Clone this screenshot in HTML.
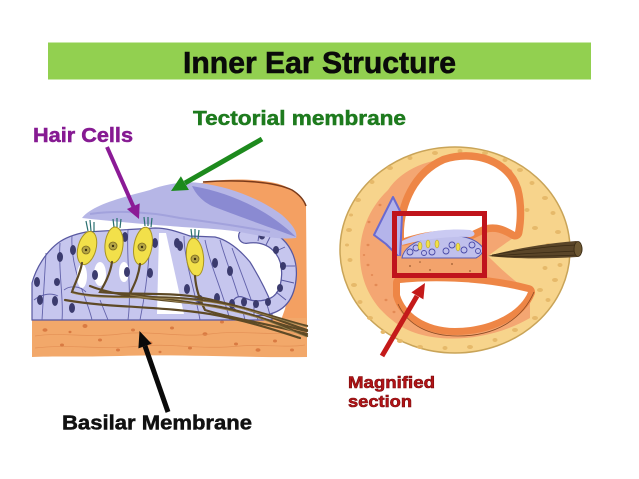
<!DOCTYPE html>
<html><head><meta charset="utf-8"><style>
html,body{margin:0;padding:0;background:#fff;}
svg{display:block;}
text{font-family:"Liberation Sans",Arial,sans-serif;font-weight:bold;}
</style></head><body>
<svg width="639" height="479" viewBox="0 0 639 479" xmlns="http://www.w3.org/2000/svg">
<rect width="639" height="479" fill="#fff"/>
<!-- Title bar -->
<rect x="48" y="42.5" width="543" height="37" fill="#92d050"/>
<text x="183" y="73" font-size="31" fill="#0a0a0a" stroke="#0a0a0a" stroke-width="0.6" textLength="273" lengthAdjust="spacingAndGlyphs">Inner Ear Structure</text>

<!-- ============ LEFT ILLUSTRATION ============ -->
<path d="M192,186 C215,178 250,178 275,183 C292,187 302,196 306,206 L307,322 L280,322 C290,300 294,270 288,250 C280,232 262,226 240,222 Z" fill="#f4a062"/>
<path d="M203,182 C240,179 275,182 292,190 C300,195 304,200 306,206" fill="none" stroke="#7a3a1a" stroke-width="1.5"/>
<path d="M32,318 L307,318 L307,357 C250,358 180,354 120,356 C80,357 50,356 32,357 Z" fill="#f2a86a"/>
<g fill="#d97a42">
<ellipse cx="45" cy="330" rx="2.5" ry="1.8"/><ellipse cx="62" cy="345" rx="2" ry="1.5"/><ellipse cx="85" cy="326" rx="2.5" ry="2"/><ellipse cx="100" cy="340" rx="2" ry="1.5"/><ellipse cx="118" cy="350" rx="2" ry="1.5"/><ellipse cx="133" cy="330" rx="2" ry="1.5"/><ellipse cx="150" cy="343" rx="2.5" ry="1.8"/><ellipse cx="172" cy="328" rx="2" ry="1.5"/><ellipse cx="190" cy="348" rx="2" ry="1.5"/><ellipse cx="205" cy="334" rx="2.5" ry="1.8"/><ellipse cx="222" cy="322" rx="2" ry="1.5"/><ellipse cx="236" cy="344" rx="2" ry="1.5"/><ellipse cx="258" cy="350" rx="2.5" ry="1.8"/><ellipse cx="275" cy="341" rx="2" ry="1.5"/><ellipse cx="292" cy="350" rx="2" ry="1.5"/><ellipse cx="70" cy="332" rx="1.5" ry="1.2"/><ellipse cx="160" cy="352" rx="1.5" ry="1.2"/>
</g>
<g stroke="#e08a50" stroke-width="0.7" fill="none" opacity="0.8">
<path d="M35,336 C60,332 90,338 120,334 C150,330 180,338 210,334 C240,330 270,336 305,332"/>
<path d="M35,348 C70,344 100,350 140,346 C170,343 200,350 240,346 C265,344 285,348 305,345"/>
</g>

<path d="M32,320 L32,283 C36,268 46,252 58,243 C66,237 76,234 86,232 L155,228 C168,228 178,232 190,236 L215,237 C228,240 240,250 250,262 C258,275 266,290 272,305 L272,320 Z" fill="#c6c6ee" stroke="#5858a0" stroke-width="1.2"/>
<g stroke="#6262aa" stroke-width="0.9" fill="none">
<path d="M46,253 L42,320"/><path d="M60,243 C58,270 64,300 62,320"/><path d="M72,236 C70,270 88,300 92,320"/><path d="M100,300 L108,320"/><path d="M128,230 C126,260 132,290 128,320"/><path d="M150,229 C150,260 146,290 140,320"/><path d="M34,300 C40,295 50,292 58,296"/><path d="M64,290 C70,285 80,286 86,292"/>
<path d="M184,236 C184,260 195,290 200,320"/><path d="M205,240 C210,265 222,290 230,320"/><path d="M220,240 C226,262 238,290 245,320"/><path d="M232,248 C240,270 250,295 258,320"/><path d="M190,300 C200,296 212,298 220,304"/>
</g>
<g fill="#fff">
<path d="M159,233 L166,233 L184,314 L157,314 Z"/>
<ellipse cx="82" cy="276" rx="5" ry="12"/>
<ellipse cx="100" cy="274" rx="6" ry="12"/>
<ellipse cx="124" cy="272" rx="5" ry="10"/>
</g>
<path d="M246,236 C272,232 290,250 289,275 C288,295 280,306 262,308 C250,309 245,306 240,304" fill="none" stroke="#5858a0" stroke-width="16" stroke-linecap="round"/>
<path d="M246,236 C272,232 290,250 289,275 C288,295 280,306 262,308 C250,309 245,306 240,304" fill="none" stroke="#c6c6ee" stroke-width="13.5" stroke-linecap="round"/>
<g stroke="#5858a0" stroke-width="0.9">
<line x1="260" y1="228" x2="258" y2="241"/><line x1="272" y1="233" x2="266" y2="245"/><line x1="285" y1="247" x2="274" y2="252"/><line x1="295" y1="266" x2="282" y2="266"/><line x1="294" y1="283" x2="281" y2="280"/><line x1="286" y1="300" x2="276" y2="292"/><line x1="270" y1="315" x2="266" y2="301"/><line x1="254" y1="315" x2="254" y2="302"/>
</g>
<g fill="#3b3b6e">
<ellipse cx="40" cy="300" rx="3" ry="5"/><ellipse cx="55" cy="301" rx="3" ry="5"/><ellipse cx="72" cy="308" rx="3" ry="5"/><ellipse cx="60" cy="257" rx="3" ry="5"/><ellipse cx="73" cy="250" rx="3" ry="5"/><ellipse cx="95" cy="275" rx="3" ry="5"/><ellipse cx="125" cy="237" rx="3" ry="5"/><ellipse cx="127" cy="272" rx="3" ry="5"/><ellipse cx="155" cy="243" rx="3" ry="5"/><ellipse cx="150" cy="273" rx="3" ry="5"/><ellipse cx="177" cy="243" rx="3" ry="5"/><ellipse cx="37" cy="282" rx="3" ry="5"/><ellipse cx="57" cy="282" rx="3" ry="4"/>
<ellipse cx="180" cy="246" rx="3" ry="5"/><ellipse cx="187" cy="289" rx="3" ry="5"/><ellipse cx="215" cy="263" rx="3" ry="5"/><ellipse cx="230" cy="271" rx="3" ry="5"/><ellipse cx="217" cy="298" rx="3" ry="5"/><ellipse cx="232" cy="304" rx="3" ry="5"/><ellipse cx="244" cy="302" rx="3" ry="4.5"/><ellipse cx="256" cy="304" rx="3" ry="4"/><ellipse cx="268" cy="302" rx="3" ry="4"/><ellipse cx="280" cy="288" rx="3" ry="4"/><ellipse cx="283" cy="266" rx="3" ry="4"/><ellipse cx="276" cy="250" rx="3" ry="4"/><ellipse cx="262" cy="236" rx="3" ry="3.5"/><ellipse cx="200" cy="300" rx="3" ry="5"/>
</g>

<path d="M82,218 C92,205 120,198 150,190 C165,184 185,181 200,183 C232,187 262,200 282,215 C292,224 298,232 296,238 C280,240 260,236 240,232 C215,228 190,228 170,226 C140,224 110,221 82,218 Z" fill="#b6b6e6"/>
<path d="M192,186 C232,193 268,210 296,237 C278,230 248,220 212,206 C200,200 195,192 192,186 Z" fill="#8a8ad2"/>
<path d="M90,214 C120,210 150,212 180,218 C210,222 240,226 270,232" fill="none" stroke="#a2a2dc" stroke-width="2"/>

<g stroke="#2a7070" stroke-width="1.2">
<line x1="88" y1="231" x2="86" y2="221"/><line x1="91" y1="231" x2="90" y2="220"/><line x1="94" y1="232" x2="94" y2="222"/>
<line x1="114" y1="227" x2="113" y2="219"/><line x1="117" y1="227" x2="117" y2="218"/><line x1="120" y1="228" x2="121" y2="219"/>
<line x1="145" y1="226" x2="144" y2="217"/><line x1="148" y1="226" x2="148" y2="217"/><line x1="151" y1="227" x2="152" y2="218"/>
<line x1="192" y1="238" x2="191" y2="229"/><line x1="195" y1="238" x2="195" y2="229"/><line x1="198" y1="239" x2="199" y2="230"/>
</g>
<g fill="#f2e04a" stroke="#a89420" stroke-width="1">
<ellipse cx="87" cy="248" rx="9" ry="17" transform="rotate(15 87 248)"/>
<ellipse cx="114" cy="245" rx="9" ry="18" transform="rotate(5 114 245)"/>
<ellipse cx="143" cy="246" rx="9" ry="19" transform="rotate(10 143 246)"/>
<ellipse cx="195" cy="257" rx="8.5" ry="19" transform="rotate(-6 195 257)"/>
</g>
<g fill="#b5a545" stroke="#7a6a20" stroke-width="0.8">
<circle cx="86" cy="250" r="4"/><circle cx="113" cy="246" r="4"/><circle cx="142" cy="247" r="4"/><circle cx="195" cy="259" r="4"/>
</g>
<g fill="#3a3010"><circle cx="86" cy="250" r="1.2"/><circle cx="113" cy="246" r="1.2"/><circle cx="142" cy="247" r="1.2"/><circle cx="195" cy="259" r="1.2"/></g>

<g fill="none" stroke="#5e4a26" stroke-width="2.2" stroke-linecap="round">
<path d="M82,263 C80,275 74,285 72,292 C100,300 150,294 200,300 C240,304 275,318 307,326"/>
<path d="M112,262 C110,275 104,285 100,292 C140,296 180,290 220,302 C255,310 282,322 307,330"/>
<path d="M140,264 C138,280 132,288 130,294 C170,300 210,304 240,312 C268,318 290,330 307,336"/>
<path d="M195,276 C196,290 200,300 205,310 C230,318 260,322 307,334"/>
<path d="M65,300 C110,308 160,306 210,314 C245,320 275,330 300,338"/>
<path d="M90,286 C120,298 170,300 215,306 C250,312 280,326 307,331"/>
</g>
<g fill="none" stroke="#9a8450" stroke-width="0.8">
<path d="M72,293 C100,301 150,295 200,301 C240,305 275,319 307,327"/>
<path d="M130,295 C170,301 210,305 240,313 C268,319 290,331 307,337"/>
</g>

<!-- ============ RIGHT ILLUSTRATION (cochlea) ============ -->
<ellipse cx="455" cy="250" rx="115" ry="103" fill="#f7d48c" stroke="#c9a458" stroke-width="1.5"/>
<g fill="#e6b96a">
<ellipse cx="349" cy="230" rx="3" ry="2"/><ellipse cx="350" cy="260" rx="2.5" ry="2"/><ellipse cx="347" cy="245" rx="2" ry="1.5"/><ellipse cx="354" cy="285" rx="3" ry="2"/><ellipse cx="360" cy="302" rx="2.5" ry="2"/><ellipse cx="370" cy="318" rx="3" ry="2"/><ellipse cx="383" cy="332" rx="2.5" ry="2"/><ellipse cx="400" cy="341" rx="3" ry="2"/><ellipse cx="420" cy="347" rx="3" ry="2"/><ellipse cx="445" cy="348" rx="2.5" ry="2"/><ellipse cx="470" cy="347" rx="3" ry="2"/><ellipse cx="495" cy="340" rx="2.5" ry="2"/><ellipse cx="515" cy="330" rx="3" ry="2"/><ellipse cx="535" cy="318" rx="3" ry="2"/><ellipse cx="548" cy="300" rx="2.5" ry="2"/><ellipse cx="555" cy="280" rx="3" ry="2"/><ellipse cx="560" cy="265" rx="2.5" ry="2"/><ellipse cx="558" cy="232" rx="3" ry="2"/><ellipse cx="553" cy="213" rx="2.5" ry="2"/><ellipse cx="545" cy="198" rx="3" ry="2"/><ellipse cx="532" cy="183" rx="2.5" ry="2"/><ellipse cx="520" cy="170" rx="3" ry="2"/><ellipse cx="505" cy="160" rx="2.5" ry="2"/><ellipse cx="485" cy="153" rx="3" ry="2"/><ellipse cx="460" cy="151" rx="2.5" ry="2"/><ellipse cx="435" cy="153" rx="3" ry="2"/><ellipse cx="410" cy="158" rx="2.5" ry="2"/><ellipse cx="390" cy="168" rx="3" ry="2"/><ellipse cx="372" cy="182" rx="2.5" ry="2"/><ellipse cx="358" cy="200" rx="3" ry="2"/><ellipse cx="351" cy="215" rx="2" ry="1.5"/><ellipse cx="540" cy="290" rx="3" ry="2"/><ellipse cx="535" cy="228" rx="3" ry="2"/><ellipse cx="548" cy="245" rx="2.5" ry="2"/><ellipse cx="527" cy="210" rx="2.5" ry="2"/><ellipse cx="545" cy="268" rx="2.5" ry="2"/>
</g>
<!-- light orange C region -->
<path d="M512,170 C472,150 412,154 388,190 C350,226 350,288 392,320 C422,346 485,344 530,318 L530,292 C512,280 496,264 488,256 C496,250 510,240 522,232 Z" fill="#f4a672"/>
<g fill="#e38a55">
<ellipse cx="368" cy="245" rx="1.5" ry="1.2"/><ellipse cx="368" cy="265" rx="1.5" ry="1.2"/><ellipse cx="376" cy="285" rx="1.5" ry="1.2"/><ellipse cx="369" cy="222" rx="1.5" ry="1.2"/><ellipse cx="386" cy="300" rx="1.5" ry="1.2"/><ellipse cx="394" cy="312" rx="1.5" ry="1.2"/><ellipse cx="380" cy="205" rx="1.5" ry="1.2"/><ellipse cx="364" cy="255" rx="1.2" ry="1"/><ellipse cx="372" cy="275" rx="1.2" ry="1"/>
</g>
<!-- upper hole -->
<path d="M404,238 C403,205 418,175 445,163 C472,154 505,163 514,190 C518,205 517,222 515,232 C505,226 495,222 483,226 L470,232 C445,228 422,232 404,238 Z" fill="none" stroke="#ee8646" stroke-width="15" stroke-linejoin="round"/>
<path d="M404,238 C403,205 418,175 445,163 C472,154 505,163 514,190 C518,205 517,222 515,232 C505,226 495,222 483,226 L470,232 C445,228 422,232 404,238 Z" fill="#fff"/>
<!-- lower hole -->
<path d="M400,283 C440,279 490,282 528,292 C520,312 490,328 455,328 C425,328 405,312 400,295 Z" fill="none" stroke="#ee8646" stroke-width="14" stroke-linejoin="round"/>
<path d="M400,283 C440,279 490,282 528,292 C520,312 490,328 455,328 C425,328 405,312 400,295 Z" fill="#fff"/>
<path d="M398,304 C408,326 430,336 458,336 C495,336 522,320 534,292" fill="none" stroke="#8a4a22" stroke-width="0.8"/>
<!-- lavender triangle left -->
<path d="M393,197 L374,235 L386,244 L400,258 L402,215 Z" fill="#b4b4ea" stroke="#6a6ad0" stroke-width="2" stroke-linejoin="round"/>
<!-- orange band inside rect -->
<path d="M396,256 L488,254 L488,277 L396,277 Z" fill="#f3a36c"/>
<g fill="#9a5a30"><circle cx="410" cy="266" r="0.9"/><circle cx="430" cy="270" r="0.9"/><circle cx="452" cy="264" r="0.9"/><circle cx="470" cy="271" r="0.9"/><circle cx="420" cy="262" r="0.8"/></g>
<!-- mini organ of corti -->
<path d="M402,258 C404,246 420,238 440,236 C460,234 476,238 483,248 C484,252 480,256 476,258 Z" fill="#c0c0ec" stroke="#5a5ab0" stroke-width="1"/>
<path d="M402,241 C420,232 445,228 470,230 C476,232 476,236 470,237 C445,236 420,240 402,245 Z" fill="#cacaf2"/>
<g fill="none" stroke="#4a4aa8" stroke-width="0.9">
<circle cx="410" cy="252" r="3"/><circle cx="416" cy="248" r="3"/><circle cx="432" cy="252" r="3"/><circle cx="446" cy="251" r="3"/><circle cx="452" cy="245" r="3"/><circle cx="464" cy="250" r="3"/><circle cx="472" cy="245" r="3"/><circle cx="478" cy="251" r="2.5"/><circle cx="424" cy="253" r="2.5"/>
</g>
<g fill="#f2e04a" stroke="#a89420" stroke-width="0.5">
<ellipse cx="420" cy="246" rx="2" ry="4"/><ellipse cx="428" cy="244" rx="2" ry="4"/><ellipse cx="437" cy="244" rx="2" ry="4"/><ellipse cx="458" cy="247" rx="2" ry="4"/>
</g>
<!-- nerve -->
<path d="M488,256 C510,250 540,244 576,241 C584,242 585,255 577,257 C545,259 515,259 488,256 Z" fill="#5a4528"/>
<g stroke="#3a2a14" stroke-width="0.7" fill="none">
<path d="M492,255 C520,250 548,246 576,245"/><path d="M492,256 C520,254 550,252 578,251"/><path d="M494,256 C525,257 552,256 577,255"/>
</g>
<ellipse cx="578" cy="249" rx="4" ry="7.5" fill="#6e5832" stroke="#3a2a14" stroke-width="0.8"/>
<!-- red rect -->
<rect x="394.5" y="213.5" width="90" height="62" fill="none" stroke="#c0141c" stroke-width="5"/>

<!-- ============ ARROWS ============ -->
<line x1="107" y1="147" x2="134" y2="208" stroke="#8b1a96" stroke-width="4"/>
<polygon points="139,219 126.9,209 139.7,203.4" fill="#8b1a96"/>
<line x1="262" y1="139" x2="185" y2="183" stroke="#1d8a1d" stroke-width="5"/>
<polygon points="171,191 180.9,176.2 188.9,190" fill="#1d8a1d"/>
<line x1="168" y1="412" x2="145" y2="346" stroke="#0a0a0a" stroke-width="5"/>
<polygon points="139.5,331 151.6,343.8 138.4,348.4" fill="#0a0a0a"/>
<line x1="382" y1="356" x2="417" y2="296" stroke="#c41a1a" stroke-width="5"/>
<polygon points="425,283 423.4,299.4 411.4,292.4" fill="#c41a1a"/>

<!-- ============ LABELS ============ -->
<text x="33" y="142" font-size="20" fill="#861a92" stroke="#861a92" stroke-width="0.5" textLength="100" lengthAdjust="spacingAndGlyphs">Hair Cells</text>
<text x="193" y="125" font-size="20" fill="#1e7b1e" stroke="#1e7b1e" stroke-width="0.5" textLength="213" lengthAdjust="spacingAndGlyphs">Tectorial membrane</text>
<text x="62" y="429.5" font-size="20" fill="#111" stroke="#111" stroke-width="0.5" textLength="190" lengthAdjust="spacingAndGlyphs">Basilar Membrane</text>
<text x="348" y="388" font-size="17" fill="#b41418" stroke="#7a0a0a" stroke-width="0.6" textLength="87" lengthAdjust="spacingAndGlyphs">Magnified</text>
<text x="348" y="407" font-size="17" fill="#b41418" stroke="#7a0a0a" stroke-width="0.6" textLength="64" lengthAdjust="spacingAndGlyphs">section</text>
</svg>
</body></html>
